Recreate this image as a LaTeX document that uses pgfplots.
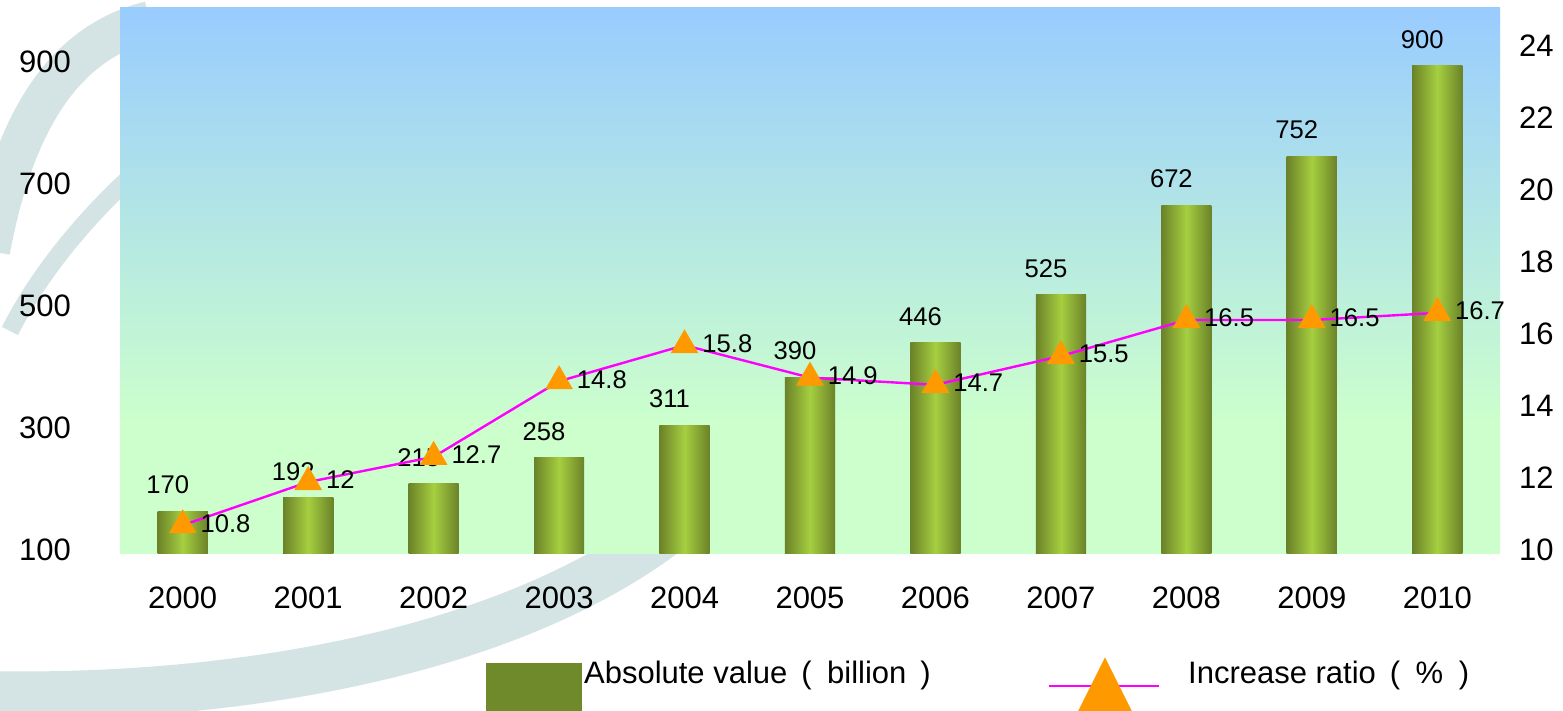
\documentclass[border=0pt]{standalone}
\usepackage{pgfplots}
\pgfplotsset{compat=1.18}
\usepackage{fontspec}
\setmainfont{Liberation Sans}
\definecolor{bgblue}{HTML}{99CCFF}
\definecolor{bggreen}{HTML}{CCFFCC}
\definecolor{bardark}{HTML}{6B8229}
\definecolor{barlight}{HTML}{A6CF40}
\definecolor{legendgreen}{HTML}{6F8A2A}
\definecolor{linemag}{HTML}{FF00FF}
\definecolor{markor}{HTML}{FF9900}
\definecolor{deco}{HTML}{D4E4E4}
\pgfdeclareverticalshading{bgshade}{100bp}{color(0bp)=(bggreen); color(25bp)=(bggreen); color(37bp)=(bggreen); color(75bp)=(bgblue); color(100bp)=(bgblue)}
\pgfplotsset{
  barsty/.style={ybar, bar width=0.4, bar shift=0pt, draw=none,
    left color=bardark, right color=bardark, middle color=barlight,
    nodes near coords,
    every node near coord/.append style={anchor=south, black, font=\fontsize{12.8}{15}\selectfont, xshift=-7.5pt, yshift=5pt}},
}
\begin{document}
\begin{tikzpicture}
\fill[white] (0,0) rectangle (781.5pt,355.5pt);
\useasboundingbox (0,0) rectangle (781.5pt,355.5pt);
% decorative swooshes
\draw[deco, line width=20pt] (75pt,345pt) .. controls (35pt,335pt) and (8pt,300pt) .. (-5pt,230pt);
\draw[deco, line width=9pt] (150pt,320pt) .. controls (90pt,300pt) and (30pt,240pt) .. (5pt,190pt);
\draw[deco, line width=24pt] (-10pt,8pt) .. controls (120pt,5pt) and (260pt,30pt) .. (340pt,95pt);

\begin{axis}[
  at={(60pt,78.5pt)}, anchor=south west,
  scale only axis, width=690pt, height=273pt,
  xmin=-0.5, xmax=10.5, ymin=100, ymax=995,
  xtick={0,1,2,3,4,5,6,7,8,9,10},
  xticklabels={2000,2001,2002,2003,2004,2005,2006,2007,2008,2009,2010},
  ytick={100,300,500,700,900},
  axis line style={draw=none}, major tick length=0pt,
  axis background/.style={shading=bgshade},
  tick label style={font=\fontsize{15.5}{18}\selectfont},
  /pgf/number format/assume math mode=true,
  /pgf/number format/1000 sep={},
  yticklabel style={anchor=east, xshift=-21pt, yshift=2pt},
  xticklabel style={anchor=north, yshift=-13pt},
]
\addplot[barsty] coordinates {(0,170)};
\addplot[barsty] coordinates {(1,192)};
\addplot[barsty] coordinates {(2,215)};
\addplot[barsty] coordinates {(3,258)};
\addplot[barsty] coordinates {(4,311)};
\addplot[barsty] coordinates {(5,390)};
\addplot[barsty] coordinates {(6,446)};
\addplot[barsty] coordinates {(7,525)};
\addplot[barsty] coordinates {(8,672)};
\addplot[barsty] coordinates {(9,752)};
\addplot[barsty] coordinates {(10,900)};
\end{axis}

\begin{axis}[
  at={(60pt,78.5pt)}, anchor=south west,
  scale only axis, width=690pt, height=273pt,
  xmin=-0.5, xmax=10.5, ymin=10, ymax=25.17,
  axis y line*=right, axis x line=none,
  ytick={10,12,14,16,18,20,22,24},
  axis line style={draw=none}, major tick length=0pt,
  tick label style={font=\fontsize{15.5}{18}\selectfont},
  /pgf/number format/assume math mode=true,
  yticklabel style={anchor=west, xshift=6pt, yshift=2pt},
  legend style={at={(0.2608,-0.249)}, anchor=west, draw=none, fill=none,
    legend columns=2, font=\fontsize{15.5}{18}\selectfont,
    nodes={inner sep=0pt},
    /tikz/every even column/.append style={column sep=58.5pt}},
]
\addlegendimage{legend image code/.code={\fill[legendgreen] (0pt,-20pt) rectangle (47.5pt,5.5pt); \path (48.5pt,0pt);}}
\addlegendentry{Absolute value\hspace{0.45em}(\hspace{0.5em}billion\hspace{0.45em})}
\addplot[linemag, line width=1.2pt, mark=triangle*, mark size=6.8pt,
  mark options={fill=markor, draw=markor, solid},
  nodes near coords,
  every node near coord/.append style={anchor=west, black, font=\fontsize{12.8}{15}\selectfont, xshift=5pt, yshift=1pt},
  legend image code/.code={\draw[linemag, line width=1.2pt] (0pt,-6pt) -- (55pt,-6pt);
     \fill[markor] (28pt,7pt) -- (43pt,-23pt) -- (13pt,-23pt) -- cycle; \path (69pt,0pt);}]
coordinates {(0,10.8) (1,12) (2,12.7) (3,14.8) (4,15.8) (5,14.9) (6,14.7) (7,15.5) (8,16.5) (9,16.5) (10,16.7)};
\addlegendentry{Increase ratio\hspace{0.45em}(\hspace{0.5em}\%\hspace{0.5em})}
\end{axis}
\end{tikzpicture}
\end{document}
